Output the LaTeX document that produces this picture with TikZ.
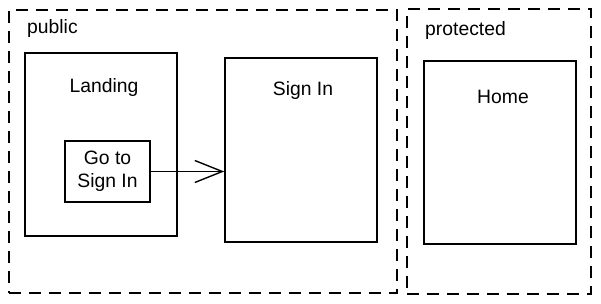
\documentclass[tikz,border=0pt]{standalone}
\usepackage{fontspec}
\setmainfont{Liberation Sans}
\usetikzlibrary{arrows.meta}

\begin{document}
\begin{tikzpicture}[>={Straight Barb[length=5.5mm,width=4.4mm]},
    font=\fontsize{11}{13}\selectfont,
    zone/.style={draw, dashed, dash pattern=on 0.24cm off 0.16cm, line width=0.75pt,
        inner sep=0pt, minimum width=#1},
    screen/.style={draw, line width=0.9pt, inner sep=0pt,
        minimum width=3.04cm, minimum height=3.66cm},
    link/.style={draw, line width=0.9pt, inner sep=0pt, align=center,
        minimum width=1.7cm, minimum height=1.22cm}]

% white background
\fill[white] (0,0) rectangle (12.02,6.06);

% access zones
\node[zone=7.76cm, minimum height=5.66cm] (public) at (4.06,3.03) {};
\node[zone=3.68cm, minimum height=5.70cm] (protected) at (9.98,3.03) {};
\node[anchor=west] (publicname) at (0.42,5.48) {public};
\node[anchor=west] (protectedname) at (8.38,5.44) {protected};

% pages
\node[screen] (landing) at (2.02,3.17) {};
\node[screen, minimum height=3.68cm] (signin) at (6.02,3.06) {};
\node[screen] (home) at (10.0,3.01) {};

\node (landingname) at (2.08,4.3) {Landing};
\node (signinname) at (6.06,4.24) {Sign In};
\node (homename) at (10.06,4.12) {Home};

% button on the landing page
\node[link] (goto) at (2.15,2.63) {Go to\\Sign In};

\draw[->, line width=0.8pt] (goto.east) -- (goto.east -| signin.west);

\end{tikzpicture}
\end{document}
